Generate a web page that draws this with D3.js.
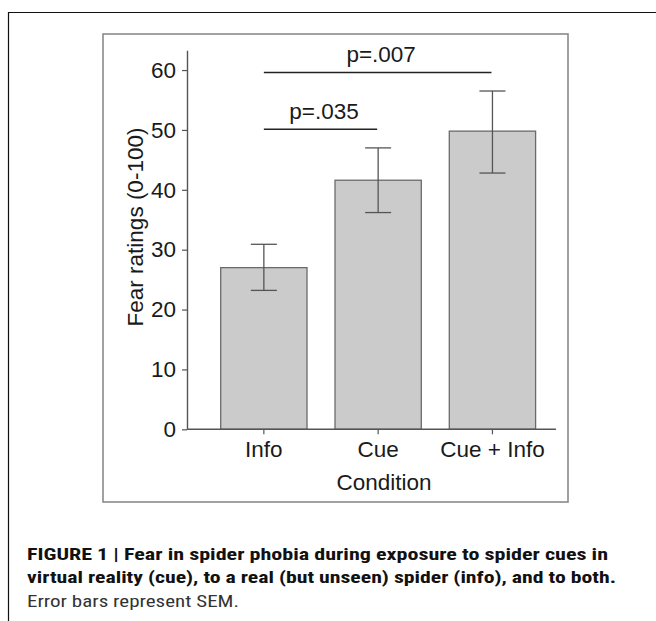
<!DOCTYPE html>
<html>
<head>
<meta charset="utf-8">
<script src="https://cdn.jsdelivr.net/npm/d3@7"></script>
<style>
  body { margin: 0; background: #fff; }
  svg { display: block; }
</style>
</head>
<body>
<div id="chart"></div>
<script>
// data
var conditions = ["Info", "Cue", "Cue + Info"];
var fearMeans = [27.0, 41.6, 49.8];
var semLow = [23.2, 36.2, 42.8];
var semHigh = [30.9, 47.0, 56.5];
var yTicks = [0, 10, 20, 30, 40, 50, 60];
// significance brackets
var sigFrom = ["Info", "Info"];
var sigTo = ["Cue", "Cue + Info"];
var sigLevel = [50.1, 59.6];
var sigLabels = ["p=.035", "p=.007"];
var captionLines = [
    "FIGURE 1 | Fear in spider phobia during exposure to spider cues in",
    "virtual reality (cue), to a real (but unseen) spider (info), and to both.",
    "Error bars represent SEM."
];

drawChart();

function drawChart() {
    var width = 656, height = 621;
    var font = "Arial, 'Liberation Sans', Helvetica, sans-serif";

    var svg = d3.select("#chart")
        .append("svg")
        .attr("width", width)
        .attr("height", height);

    // outer figure frame (left + top only, runs off the page)
    svg.append("path")
        .attr("d", "M8.5,700V12.5H700")
        .attr("fill", "none")
        .attr("stroke", "#111")
        .attr("stroke-width", 1.2);

    // inner chart frame
    svg.append("rect")
        .attr("x", 103)
        .attr("y", 34)
        .attr("width", 465)
        .attr("height", 468)
        .attr("fill", "none")
        .attr("stroke", "#8a8a8a")
        .attr("stroke-width", 1.6);

    var axisX = 187, axisRight = 556;

    // scales
    var y = d3.scaleLinear()
        .domain([0, 63.3])
        .range([429.3, 50.3]);

    var x = d3.scaleBand()
        .domain(conditions)
        .range([206.7, 549.6])
        .paddingInner(0.245)
        .paddingOuter(0.1225);

    // Y axis
    var yAxis = svg.append("g")
        .attr("transform", "translate(" + axisX + ",0)")
        .call(d3.axisLeft(y).tickValues(yTicks).tickSize(5).tickSizeOuter(0).tickPadding(6));
    yAxis.select(".domain").attr("stroke", "#555").attr("stroke-width", 1.4);
    yAxis.selectAll(".tick line").attr("stroke", "#555").attr("stroke-width", 1.2);
    yAxis.selectAll("text")
        .style("font-family", font)
        .style("font-size", "22.5px")
        .attr("fill", "#1a1a1a");

    // bars
    svg.selectAll("rect.bar")
        .data(conditions)
        .enter()
        .append("rect")
        .attr("class", "bar")
        .attr("x", function (d) { return x(d); })
        .attr("y", function (d, i) { return y(fearMeans[i]); })
        .attr("width", x.bandwidth())
        .attr("height", function (d, i) { return y(0) - y(fearMeans[i]); })
        .attr("fill", "#cbcbcb")
        .attr("stroke", "#6a6a6a")
        .attr("stroke-width", 1.3);

    // X axis
    var xAxis = svg.append("g")
        .attr("transform", "translate(0," + y(0) + ")")
        .call(d3.axisBottom(x).tickSize(5).tickSizeOuter(0).tickPadding(7));
    xAxis.select(".domain").remove();
    xAxis.append("line")
        .attr("x1", axisX)
        .attr("x2", axisRight)
        .attr("stroke", "#555")
        .attr("stroke-width", 1.4);
    xAxis.selectAll(".tick line").attr("stroke", "#555").attr("stroke-width", 1.2);
    xAxis.selectAll("text")
        .style("font-family", font)
        .style("font-size", "22.5px")
        .attr("fill", "#1a1a1a");

    // error bars
    var capHalf = 13;
    var center = function (d) { return x(d) + x.bandwidth() / 2; };
    var errs = svg.selectAll("g.err")
        .data(conditions)
        .enter()
        .append("g")
        .attr("class", "err")
        .attr("stroke", "#555")
        .attr("stroke-width", 1.3);
    errs.append("line")
        .attr("x1", center)
        .attr("x2", center)
        .attr("y1", function (d, i) { return y(semLow[i]); })
        .attr("y2", function (d, i) { return y(semHigh[i]); });
    errs.append("line")
        .attr("x1", function (d) { return center(d) - capHalf; })
        .attr("x2", function (d) { return center(d) + capHalf; })
        .attr("y1", function (d, i) { return y(semHigh[i]); })
        .attr("y2", function (d, i) { return y(semHigh[i]); });
    errs.append("line")
        .attr("x1", function (d) { return center(d) - capHalf; })
        .attr("x2", function (d) { return center(d) + capHalf; })
        .attr("y1", function (d, i) { return y(semLow[i]); })
        .attr("y2", function (d, i) { return y(semLow[i]); });

    // significance lines
    var sig = svg.selectAll("g.sig")
        .data(sigLabels)
        .enter()
        .append("g")
        .attr("class", "sig");
    sig.append("line")
        .attr("x1", function (d, i) { return center(sigFrom[i]); })
        .attr("x2", function (d, i) { return center(sigTo[i]) - 1; })
        .attr("y1", function (d, i) { return y(sigLevel[i]); })
        .attr("y2", function (d, i) { return y(sigLevel[i]); })
        .attr("stroke", "#222")
        .attr("stroke-width", 1.5);
    sig.append("text")
        .attr("x", function (d, i) { return (center(sigFrom[i]) + center(sigTo[i])) / 2 + 3; })
        .attr("y", function (d, i) { return y(sigLevel[i]) - 10; })
        .attr("text-anchor", "middle")
        .style("font-family", font)
        .style("font-size", "22.5px")
        .attr("fill", "#1a1a1a")
        .text(function (d) { return d; });

    // axis titles
    svg.append("text")
        .attr("transform", "translate(143,227) rotate(-90)")
        .attr("text-anchor", "middle")
        .style("font-family", font)
        .style("font-size", "22.5px")
        .attr("fill", "#1a1a1a")
        .text("Fear ratings (0-100)");

    svg.append("text")
        .attr("x", 384)
        .attr("y", 490)
        .attr("text-anchor", "middle")
        .style("font-family", font)
        .style("font-size", "22.5px")
        .attr("fill", "#1a1a1a")
        .text("Condition");

    // caption
    var capWidths = [581, 589, 212];
    var capY = [559.5, 583, 607];
    svg.selectAll("text.caption")
        .data(captionLines)
        .enter()
        .append("text")
        .attr("class", "caption")
        .attr("x", 27)
        .attr("y", function (d, i) { return capY[i]; })
        .attr("textLength", function (d, i) { return capWidths[i]; })
        .attr("lengthAdjust", "spacingAndGlyphs")
        .style("font-family", "'Liberation Sans Narrow', 'Roboto Condensed', Arial, sans-serif")
        .style("font-size", "16.5px")
        .style("font-weight", function (d, i) { return i < 2 ? "bold" : "normal"; })
        .attr("fill", function (d, i) { return i < 2 ? "#111" : "#333"; })
        .text(function (d) { return d; });
}
</script>
</body>
</html>
